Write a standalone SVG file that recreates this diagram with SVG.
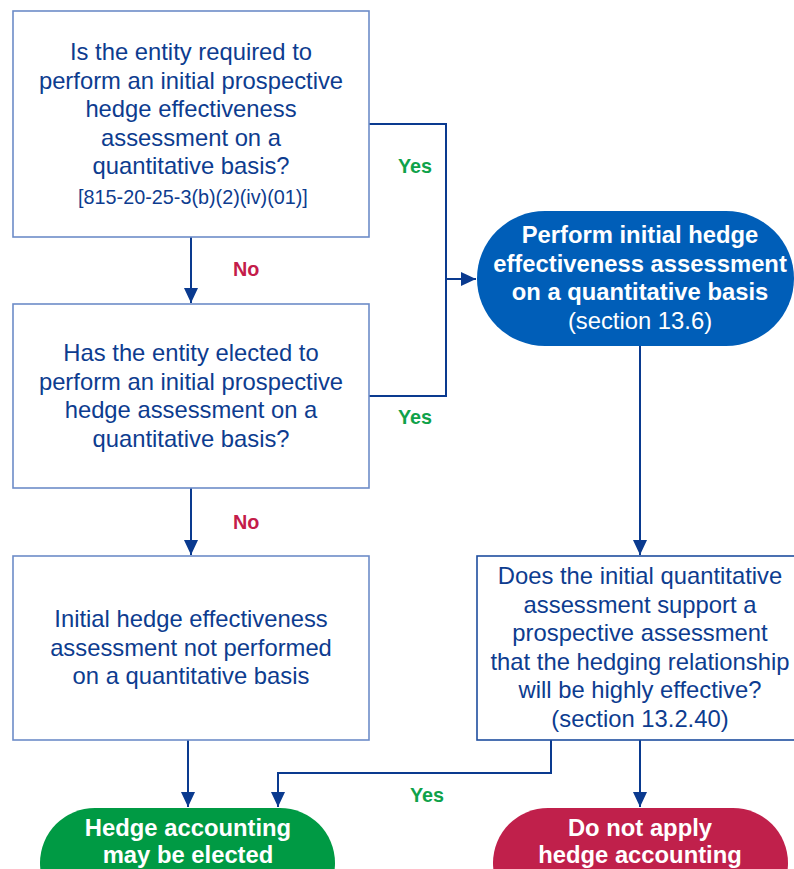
<svg xmlns="http://www.w3.org/2000/svg" width="794" height="869" viewBox="0 0 794 869">
<defs>
<marker id="ah" markerUnits="userSpaceOnUse" markerWidth="16" markerHeight="16" viewBox="0 0 16 16" refX="15" refY="8" orient="auto">
<path d="M0,1 L15,8 L0,15 Z" fill="#0a3a8f"/>
</marker>
<style>
.box{fill:#fff;stroke:#6d8cc8;stroke-width:1.6}
.box4{fill:#fff;stroke:#1f4e9f;stroke-width:1.6}
.t{font-family:"Liberation Sans",Arial,sans-serif;font-size:23.8px;fill:#0d3c8f;text-anchor:middle}
.ts{font-family:"Liberation Sans",Arial,sans-serif;font-size:19.8px;fill:#0d3c8f;text-anchor:middle}
.w{font-family:"Liberation Sans",Arial,sans-serif;font-size:23.8px;fill:#fff;text-anchor:middle;font-weight:bold}
.wr{font-family:"Liberation Sans",Arial,sans-serif;font-size:23.8px;fill:#fff;text-anchor:middle}
.yes{font-family:"Liberation Sans",Arial,sans-serif;font-size:19.8px;fill:#0fa24a;font-weight:bold}
.no{font-family:"Liberation Sans",Arial,sans-serif;font-size:19.8px;fill:#c41c4a;font-weight:bold}
.c{fill:none;stroke:#0a3a8f;stroke-width:2}
</style>
</defs>
<rect width="794" height="869" fill="#fff"/>
<g id="connectors">
<path class="c" d="M191,237 V303" marker-end="url(#ah)"/>
<path class="c" d="M369,124 H446 V396 H369"/>
<path class="c" d="M446,279 H476" marker-end="url(#ah)"/>
<path class="c" d="M191,488 V555" marker-end="url(#ah)"/>
<path class="c" d="M640,346 V555" marker-end="url(#ah)"/>
<path class="c" d="M188,740 V807" marker-end="url(#ah)"/>
<path class="c" d="M551,740 V773 H278 V807" marker-end="url(#ah)"/>
<path class="c" d="M640,740 V807" marker-end="url(#ah)"/>
<text class="yes" x="398" y="173">Yes</text>
<text class="yes" x="398" y="424">Yes</text>
<text class="yes" x="410" y="802">Yes</text>
<text class="no" x="233" y="276">No</text>
<text class="no" x="233" y="529">No</text>
</g>
<g id="q1">
<rect class="box" x="13" y="11" width="356" height="226"/>
<text class="t" x="191" y="60">Is the entity required to</text>
<text class="t" x="191" y="88.5">perform an initial prospective</text>
<text class="t" x="191" y="117">hedge effectiveness</text>
<text class="t" x="191" y="145.5">assessment on a</text>
<text class="t" x="191" y="174">quantitative basis?</text>
<text class="ts" x="193" y="204">[815-20-25-3(b)(2)(iv)(01)]</text>
</g>
<g id="q2">
<rect class="box" x="13" y="304" width="356" height="184"/>
<text class="t" x="191" y="361">Has the entity elected to</text>
<text class="t" x="191" y="389.5">perform an initial prospective</text>
<text class="t" x="191" y="418">hedge assessment on a</text>
<text class="t" x="191" y="446.5">quantitative basis?</text>
</g>
<g id="notperformed">
<rect class="box" x="13" y="556" width="356" height="184"/>
<text class="t" x="191" y="627">Initial hedge effectiveness</text>
<text class="t" x="191" y="655.5">assessment not performed</text>
<text class="t" x="191" y="684">on a quantitative basis</text>
</g>
<g id="perform">
<rect x="477" y="211" width="317" height="135" rx="68" ry="67.5" fill="#005eb8"/>
<text class="w" x="640" y="243">Perform initial hedge</text>
<text class="w" x="640" y="272">effectiveness assessment</text>
<text class="w" x="640" y="300">on a quantitative basis</text>
<text class="wr" x="640" y="329">(section 13.6)</text>
</g>
<g id="q3">
<rect class="box4" x="477" y="556" width="326" height="184"/>
<text class="t" x="640" y="584">Does the initial quantitative</text>
<text class="t" x="640" y="612.5">assessment support a</text>
<text class="t" x="640" y="641">prospective assessment</text>
<text class="t" x="640" y="669.5">that the hedging relationship</text>
<text class="t" x="640" y="698">will be highly effective?</text>
<text class="t" x="640" y="726.5">(section 13.2.40)</text>
</g>
<g id="elected">
<rect x="40" y="808" width="295" height="110" rx="55" ry="55" fill="#009a44"/>
<text class="w" x="188" y="836">Hedge accounting</text>
<text class="w" x="188" y="863">may be elected</text>
</g>
<g id="notapply">
<rect x="493" y="808" width="295" height="110" rx="55" ry="55" fill="#c0204b"/>
<text class="w" x="640" y="836">Do not apply</text>
<text class="w" x="640" y="863">hedge accounting</text>
</g>
</svg>
